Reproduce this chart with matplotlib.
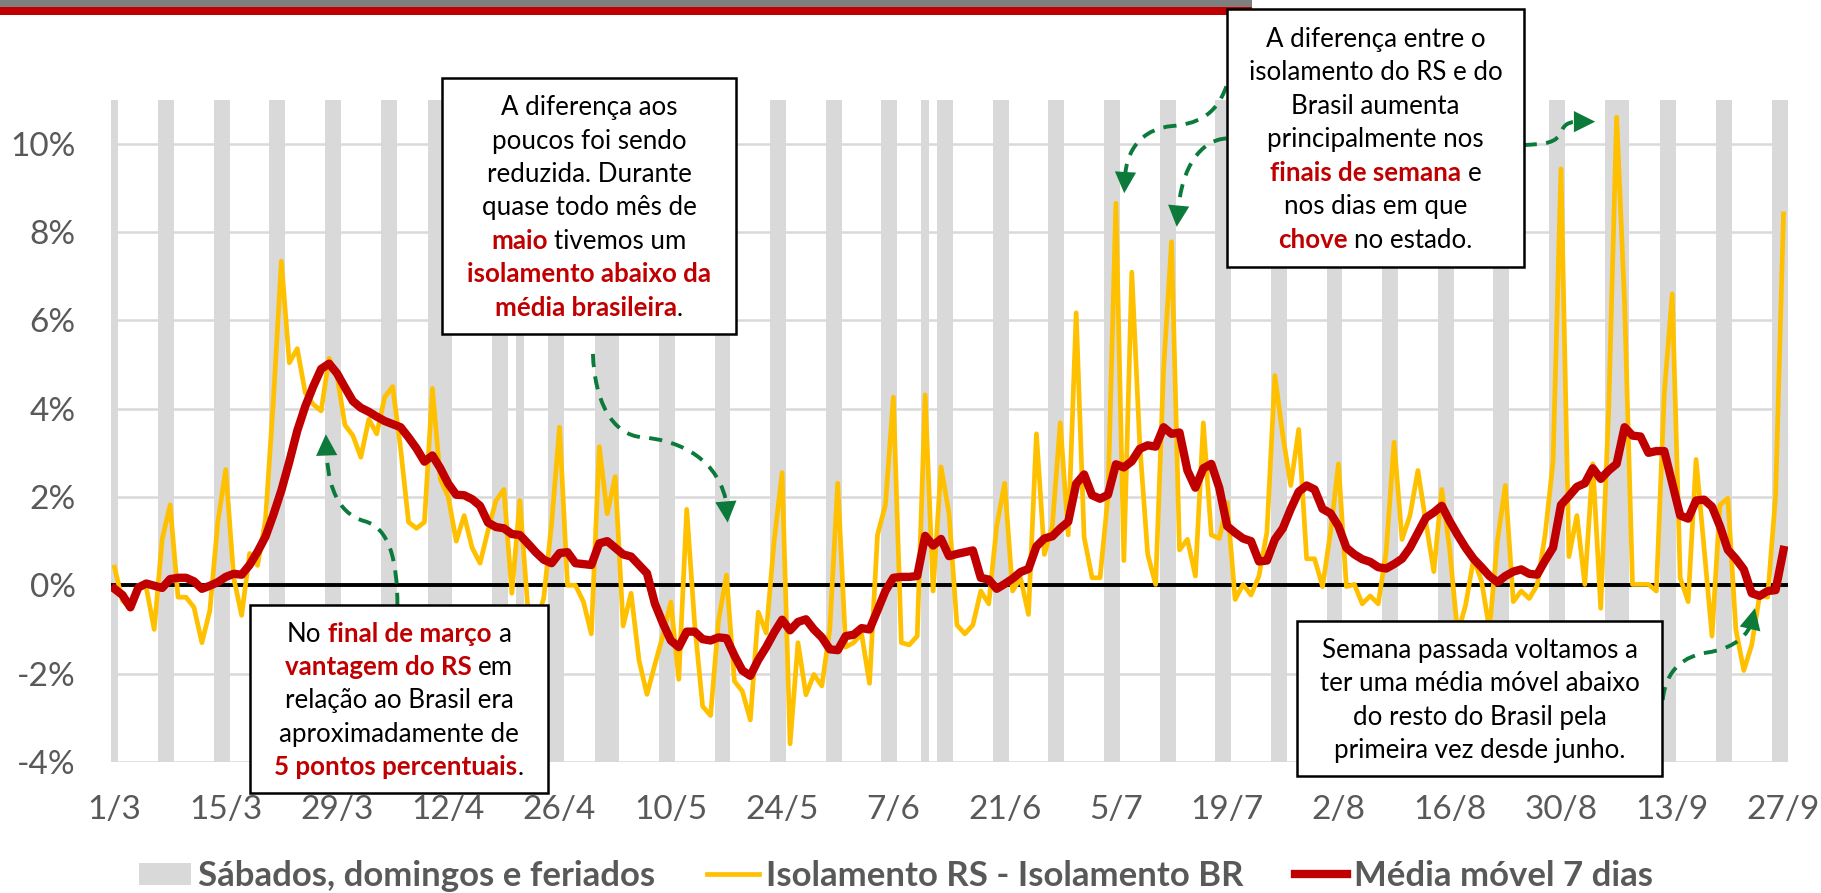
import numpy as np
import pandas as pd
import matplotlib
matplotlib.use('Agg')
import matplotlib.pyplot as plt
from matplotlib.patches import Rectangle, Patch, PathPatch
from matplotlib.lines import Line2D
from matplotlib.path import Path

W, H = 1821, 893
YELLOW = '#FFC000'
RED = '#C00000'
GRAY = '#D9D9D9'
TXT = '#595959'
GREEN = '#0B7A3B'

plt.rcParams['font.family'] = ['Lato', 'DejaVu Sans']

# ---- data (daily, from 1/3/2020) ----
start_date = '2020-03-01'
tick_labels = ['1/3', '15/3', '29/3', '12/4', '26/4', '10/5', '24/5', '7/6',
               '21/6', '5/7', '19/7', '2/8', '16/8', '30/8', '13/9', '27/9']

# Isolamento RS - Isolamento BR (%)
diff_rs_br = [
    0.41, -0.35, -0.5, 0.0, -0.05, -1.0, 1.04, 1.82, -0.27, -0.27, -0.5, -1.3, -0.57, 1.43,
    2.62, 0.17, -0.68, 0.72, 0.45, 1.48, 4.2, 7.34, 5.04, 5.36, 4.36, 4.1, 3.95, 5.14,
    4.75, 3.63, 3.39, 2.9, 3.76, 3.43, 4.26, 4.5, 3.1, 1.43, 1.29, 1.43, 4.46, 2.4,
    2.0, 1.0, 1.58, 0.85, 0.5, 1.24, 1.92, 2.17, -0.18, 1.92, -0.5, -0.9, -0.3, 1.4,
    3.58, 0.0, 0.0, -0.37, -1.1, 3.14, 1.62, 2.46, -0.92, -0.18, -1.7, -2.47, -1.79, -1.14,
    -0.38, -2.13, 1.72, -0.88, -2.74, -2.95, -0.8, 0.23, -2.17, -2.4, -3.05, -0.61, -1.08, 1.0,
    2.55, -3.59, -1.3, -2.48, -2.02, -2.28, -1.0, 2.31, -1.4, -1.3, -1.1, -2.22, 1.14, 1.82,
    4.26, -1.3, -1.35, -1.15, 4.31, -0.13, 2.68, 1.63, -0.9, -1.1, -0.9, -0.13, -0.42, 1.34,
    2.31, -0.13, 0.17, -0.66, 3.43, 0.7, 1.34, 3.68, 1.14, 6.17, 1.09, 0.17, 0.17, 2.0,
    8.65, 0.56, 7.09, 3.2, 0.7, 0.02, 4.9, 7.78, 0.8, 1.04, 0.21, 3.68, 1.14, 1.06,
    1.87, -0.32, 0.02, -0.22, 0.21, 1.2, 4.75, 3.39, 2.26, 3.53, 0.6, 0.6, -0.03, 1.2,
    2.75, -0.03, 0.02, -0.42, -0.24, -0.42, 0.75, 3.24, 1.04, 1.58, 2.6, 1.43, 0.31, 2.17,
    0.8, -1.1, -0.45, 0.6, 0.1, -1.0, 1.0, 2.26, -0.37, -0.13, -0.3, 0.0, 1.14, 2.8,
    9.43, 0.65, 1.58, 0.02, 2.75, -0.52, 4.0, 10.6, 6.4, 0.02, 0.02, 0.02, -0.13, 4.36,
    6.6, 0.17, -0.37, 2.85, 0.85, -1.15, 1.82, 1.97, -1.0, -1.93, -1.35, -0.22, -0.27, 2.02,
    8.41,
]

# Media movel 7 dias (%)
ma7 = [
    -0.08, -0.22, -0.5, -0.05, 0.04, -0.01, -0.06, 0.14, 0.17, 0.17, 0.09, -0.08, -0.01, 0.07,
    0.19, 0.26, 0.24, 0.46, 0.76, 1.1, 1.6, 2.15, 2.8, 3.5, 4.05, 4.5, 4.9, 5.02,
    4.8, 4.48, 4.17, 4.02, 3.93, 3.82, 3.72, 3.65, 3.58, 3.35, 3.1, 2.8, 2.94, 2.65,
    2.3, 2.05, 2.04, 1.95, 1.8, 1.42, 1.32, 1.29, 1.16, 1.14, 0.95, 0.75, 0.58, 0.5,
    0.73, 0.75, 0.5, 0.48, 0.46, 0.95, 1.0, 0.85, 0.7, 0.65, 0.46, 0.27, -0.42, -0.86,
    -1.25, -1.4, -1.05, -1.05, -1.22, -1.25, -1.18, -1.2, -1.59, -1.93, -2.05, -1.69, -1.4, -1.07,
    -0.78, -1.02, -0.83, -0.77, -1.0, -1.18, -1.45, -1.47, -1.15, -1.12, -0.97, -1.0, -0.57, -0.13,
    0.17, 0.19, 0.19, 0.21, 1.12, 0.9, 1.05, 0.66, 0.71, 0.75, 0.79, 0.17, 0.13, -0.08,
    0.03, 0.15, 0.3, 0.37, 0.88, 1.06, 1.11, 1.29, 1.44, 2.3, 2.51, 2.04, 1.96, 2.05,
    2.74, 2.67, 2.81, 3.09, 3.17, 3.14, 3.58, 3.43, 3.46, 2.6, 2.21, 2.65, 2.75, 2.21,
    1.34, 1.19, 1.06, 1.0, 0.54, 0.56, 1.04, 1.29, 1.73, 2.12, 2.26, 2.17, 1.73, 1.63,
    1.34, 0.85, 0.7, 0.59, 0.53, 0.41, 0.38, 0.48, 0.6, 0.85, 1.19, 1.53, 1.65, 1.8,
    1.45, 1.14, 0.85, 0.6, 0.41, 0.21, 0.07, 0.21, 0.31, 0.36, 0.26, 0.24, 0.56, 0.85,
    1.82, 2.02, 2.23, 2.31, 2.65, 2.41, 2.6, 2.75, 3.58, 3.39, 3.37, 3.0, 3.04, 3.04,
    2.31, 1.58, 1.51, 1.92, 1.94, 1.78, 1.34, 0.8, 0.6, 0.36, -0.18, -0.24, -0.13, -0.11,
    0.8,
]

# sabados, domingos e feriados
off_days = [
    '1/3', '7/3', '8/3', '14/3', '15/3', '21/3', '22/3', '28/3', '29/3',
    '4/4', '5/4', '10/4', '11/4', '12/4', '18/4', '19/4', '21/4', '25/4', '26/4',
    '1/5', '2/5', '3/5', '9/5', '10/5', '16/5', '17/5', '23/5', '24/5', '30/5', '31/5',
    '6/6', '7/6', '11/6', '13/6', '14/6', '20/6', '21/6', '27/6', '28/6',
    '4/7', '5/7', '11/7', '12/7', '18/7', '19/7', '25/7', '26/7',
    '1/8', '2/8', '8/8', '9/8', '15/8', '16/8', '22/8', '23/8', '29/8', '30/8',
    '5/9', '6/9', '7/9', '12/9', '13/9', '19/9', '20/9', '26/9', '27/9',
]

legend_labels = ['Sábados, domingos e feriados', 'Isolamento RS - Isolamento BR',
                 'Média móvel 7 dias']

# annotation boxes: text (*...* = red bold) and box in pixels (x0, y0, x1, y1)
box_texts = [
    ['A diferença aos', 'poucos foi sendo', 'reduzida. Durante', 'quase todo mês de',
     '*maio* tivemos um', '*isolamento abaixo da*', '*média brasileira*.'],
    ['A diferença entre o', 'isolamento do RS e do', 'Brasil aumenta',
     'principalmente nos', '*finais de semana* e', 'nos dias em que',
     '*chove* no estado.'],
    ['No *final de março* a', '*vantagem do RS* em', 'relação ao Brasil era',
     'aproximadamente de', '*5 pontos percentuais*.'],
    ['Semana passada voltamos a', 'ter uma média móvel abaixo',
     'do resto do Brasil pela', 'primeira vez desde junho.'],
]
box_rects = [(442, 78, 736, 334), (1227, 9, 1524, 267),
             (250, 605, 548, 793), (1297, 621, 1662, 776)]

# green dashed arrows (bezier vertices in data coords) and tips
arrow_paths = [
    [(60.2, 5.24), (60.4, 4.2), (62.5, 3.4), (66.5, 3.35),
     (70.0, 3.3), (75.5, 3.0), (76.9, 1.95)],
    [(35.6, -0.47), (35.6, 0.6), (34.5, 1.3), (31.5, 1.45),
     (28.5, 1.6), (27.0, 2.1), (26.7, 2.95)],
    [(139.9, 11.3), (138.5, 10.6), (136.0, 10.45), (133.0, 10.4),
     (130.0, 10.35), (127.6, 10.0), (127.2, 9.35)],
    [(139.9, 10.12), (137.5, 10.1), (134.6, 9.7), (133.9, 8.6)],
    [(177.3, 9.97), (180.0, 10.0), (181.5, 10.0), (182.1, 10.3),
     (182.6, 10.5), (183.5, 10.5), (184.6, 10.5)],
    [(194.8, -2.6), (195.2, -1.9), (197.5, -1.6), (200.5, -1.52),
     (203.0, -1.45), (205.0, -1.25), (205.9, -0.9)],
]
arrow_tips = [(77.15, 1.42), (26.6, 3.42), (127.05, 8.88), (133.65, 8.12),
              (186.3, 10.5), (206.4, -0.52)]


def day_index(labels, first):
    d0 = pd.Timestamp(first)
    out = []
    for s in labels:
        d, m = s.split('/')
        out.append((pd.Timestamp(2020, int(m), int(d)) - d0).days)
    return np.array(out)


fig = plt.figure(figsize=(W / 100, H / 100), dpi=100)
renderer = fig.canvas.get_renderer()

# top decoration bands
fig.add_artist(Rectangle((0, 1 - 7 / H), 1252 / W, 7 / H, transform=fig.transFigure,
                         facecolor='#7F7F7F', edgecolor='none'))
fig.add_artist(Rectangle((0, 1 - 15 / H), 1252 / W, 8 / H, transform=fig.transFigure,
                         facecolor=RED, edgecolor='none'))

ax = fig.add_axes([110.5 / W, 1 - 761.9 / H, 1677 / W, 662.3 / H])
days = np.arange(len(diff_rs_br))
off_idx = day_index(off_days, start_date)

ax.bar(off_idx, 15, bottom=-4, width=1.0, color=GRAY, linewidth=0, zorder=1)
ax.axhline(0, color='black', lw=2.8, zorder=2)
ax.plot(days, diff_rs_br, color=YELLOW, lw=3.4, zorder=3, solid_joinstyle='round')
ax.plot(days, ma7, color=RED, lw=6.0, zorder=4, solid_joinstyle='round')

ax.set_xlim(-0.5, 210.5)
ax.set_ylim(-4, 11)
ax.set_xticks(np.arange(0, len(days), 14))
ax.set_xticklabels(tick_labels)
yt = np.arange(-4, 11, 2)
ax.set_yticks(yt)
ax.set_yticklabels([f'{v}%' for v in yt])
ax.yaxis.grid(True, color=GRAY, lw=1.8)
ax.set_axisbelow(True)
for sp in ax.spines.values():
    sp.set_visible(False)
ax.tick_params(axis='both', length=0, labelsize=24, colors=TXT)
ax.tick_params(axis='x', pad=24)
ax.tick_params(axis='y', pad=25)

# arrows
for verts, tip in zip(arrow_paths, arrow_tips):
    codes = [Path.MOVETO] + [Path.CURVE4] * (len(verts) - 1)
    ax.add_patch(PathPatch(Path(verts, codes), fill=False, edgecolor=GREEN, lw=2.8,
                           linestyle=(0, (3.4, 2.4)), clip_on=False, zorder=6))
    ax.annotate('', xy=tip, xytext=verts[-1], annotation_clip=False,
                arrowprops=dict(arrowstyle='-|>,head_length=0.9,head_width=0.45',
                                color=GREEN, lw=0, shrinkA=0, shrinkB=0,
                                mutation_scale=17), zorder=6)


def advance(s, weight, size):
    t1 = fig.text(0, 0, '|' + s + '|', fontsize=size, fontweight=weight)
    t2 = fig.text(0, 0, '||', fontsize=size, fontweight=weight)
    w = t1.get_window_extent(renderer).width - t2.get_window_extent(renderer).width
    t1.remove()
    t2.remove()
    return w


def text_box(rect, lines, size=18.6, line_h=33.4):
    x0, y0, x1, y1 = rect
    fig.add_artist(Rectangle((x0 / W, 1 - y1 / H), (x1 - x0) / W, (y1 - y0) / H,
                             transform=fig.transFigure, facecolor='white',
                             edgecolor='black', lw=1.8, zorder=10))
    cx, cy = (x0 + x1) / 2, (y0 + y1) / 2
    n = len(lines)
    for i, line in enumerate(lines):
        yb = cy + (i - (n - 1) / 2) * line_h + 0.36 * size * 100 / 72
        items = []
        for k, part in enumerate(line.split('*')):
            if not part:
                continue
            red = k % 2 == 1
            weight = 'bold' if red else 'normal'
            core = part.strip(' ')
            sp = advance(' ', weight, size)
            lead = (len(part) - len(part.lstrip(' '))) * sp
            trail = (len(part) - len(part.rstrip(' '))) * sp
            items.append((core, red, lead, advance(core, weight, size), trail))
        total = sum(a + b + c for _, _, a, b, c in items)
        x = cx - total / 2
        for core, red, a, b, c in items:
            x += a
            fig.text(x / W, 1 - yb / H, core, fontsize=size,
                     fontweight='bold' if red else 'normal',
                     color=RED if red else 'black', ha='left', va='baseline',
                     zorder=11)
            x += b + c


for rect, lines in zip(box_rects, box_texts):
    text_box(rect, lines)

handles = [Patch(facecolor=GRAY, edgecolor='none'),
           Line2D([], [], color=YELLOW, lw=3.4),
           Line2D([], [], color=RED, lw=6.0)]
fig.legend(handles, legend_labels, loc='center', bbox_to_anchor=(896 / W, 1 - 876 / H),
           ncol=3, frameon=False, prop={'weight': 'bold', 'size': 25}, labelcolor=TXT,
           handlelength=1.5, handleheight=0.6, handletextpad=0.2, columnspacing=1.5)

fig.savefig('out.png', dpi=100)
